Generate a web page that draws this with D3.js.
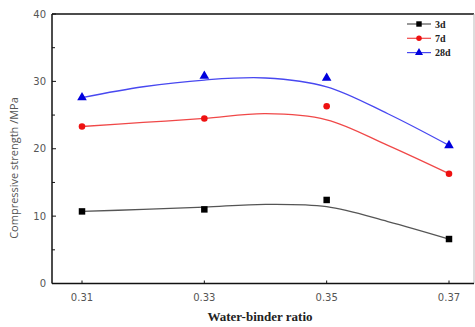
<!DOCTYPE html>
<html><head><meta charset="utf-8">
<script src="https://cdn.jsdelivr.net/npm/d3@7/dist/d3.min.js"></script>
<style>body{margin:0;background:#fff}svg{display:block}</style>
</head><body><div id="chart"></div>
<script>
// measured points
const ratios = [0.31, 0.33, 0.35, 0.37];
const s3d  = [10.7, 11.0, 12.4, 6.6];
const s7d  = [23.3, 24.5, 26.3, 16.3];
const s28d = [27.6, 30.8, 30.5, 20.5];
// smoothed curves
const curveX   = [0.31, 0.32, 0.33, 0.34, 0.35, 0.36, 0.37];
const curve3d  = [10.7, 11.0, 11.35, 11.75, 11.4, 9.2, 6.6];
const curve7d  = [23.3, 23.9, 24.5, 25.2, 24.3, 20.5, 16.3];
const curve28d = [27.6, 29.2, 30.2, 30.5, 29.2, 25.2, 20.5];
const seriesNames = ["3d", "7d", "28d"];
const xTicks = [0.31, 0.33, 0.35, 0.37];
const yTicks = [0, 10, 20, 30, 40];
const yMinor = [5, 15, 25, 35];

(function () {
const W = 475, H = 327;
const svg = d3.select("#chart").append("svg").attr("width", W).attr("height", H);
const pL = 52, pR = 474, pT = 14, pB = 283.5;
const x = d3.scaleLinear().domain([0.31, 0.37]).range([82, 449]);
const y = d3.scaleLinear().domain([0, 40]).range([pB, pT]);

const series = [
  {name: seriesNames[0], pts: s3d, cv: curve3d, color: "#000", line: "#555", shape: d3.symbolSquare, size: 42},
  {name: seriesNames[1], pts: s7d, cv: curve7d, color: "#ee1111", line: "#f04848", shape: d3.symbolCircle, size: 34},
  {name: seriesNames[2], pts: s28d, cv: curve28d, color: "#0000dd", line: "#4848f0", shape: d3.symbolTriangle, size: 40}
];

// frame
svg.append("line").attr("x1", pL).attr("x2", pR).attr("y1", pT).attr("y2", pT).attr("stroke", "#111").attr("stroke-width", 1.5);
svg.append("line").attr("x1", pR).attr("x2", pR).attr("y1", pT).attr("y2", pB).attr("stroke", "#bbb").attr("stroke-width", 1);

const line = d3.line().x(d => x(d[0])).y(d => y(d[1])).curve(d3.curveCatmullRom.alpha(0.5));
series.forEach(s => {
  svg.append("path").datum(curveX.map((v, i) => [v, s.cv[i]]))
    .attr("d", line).attr("fill", "none").attr("stroke", s.line).attr("stroke-width", 1.3);
  svg.selectAll(null).data(ratios.map((v, i) => [v, s.pts[i]])).enter().append("path")
    .attr("d", d3.symbol().type(s.shape).size(s.size))
    .attr("transform", d => `translate(${x(d[0])},${y(d[1])})`)
    .attr("fill", s.color);
});

// axes
const yAxis = svg.append("g").attr("transform", `translate(${pL},0)`);
yAxis.append("line").attr("x1", 0).attr("x2", 0).attr("y1", pT).attr("y2", pB).attr("stroke", "#111").attr("stroke-width", 1.5);
yAxis.selectAll(".t").data(yTicks.concat(yMinor)).enter().append("line")
  .attr("x1", 0).attr("x2", d => yTicks.includes(d) ? 4 : 3).attr("y1", d => y(d)).attr("y2", d => y(d)).attr("stroke", "#111");
yAxis.selectAll("text").data(yTicks).enter().append("text")
  .attr("x", -6).attr("y", d => y(d) + 3.5).attr("text-anchor", "end")
  .attr("font-family", "DejaVu Sans, sans-serif").attr("font-size", 10).attr("fill", "#555").text(d => d);

const xAxis = svg.append("g").attr("transform", `translate(0,${pB})`);
xAxis.append("line").attr("x1", pL).attr("x2", pR).attr("y1", 0).attr("y2", 0).attr("stroke", "#111").attr("stroke-width", 1.5);
xAxis.selectAll(".t").data(xTicks).enter().append("line")
  .attr("x1", d => x(d)).attr("x2", d => x(d)).attr("y1", 0).attr("y2", -3).attr("stroke", "#111");
xAxis.selectAll("text").data(xTicks).enter().append("text")
  .attr("x", d => x(d)).attr("y", 17).attr("text-anchor", "middle")
  .attr("font-family", "DejaVu Sans, sans-serif").attr("font-size", 10).attr("fill", "#555").text(d => d.toFixed(2));

svg.append("text").attr("x", 260).attr("y", 321).attr("text-anchor", "middle")
  .attr("font-family", "Liberation Serif, serif").attr("font-weight", "bold").attr("font-size", 13).attr("fill", "#222")
  .text("Water-binder ratio");
svg.append("text").attr("transform", "translate(18,168) rotate(-90)").attr("text-anchor", "middle")
  .attr("font-family", "Open Sans, sans-serif").attr("font-size", 11).attr("fill", "#555")
  .text("Compressive strength /MPa");

// legend
const lg = svg.append("g");
series.forEach((s, i) => {
  const yy = 24 + i * 14.3;
  lg.append("line").attr("x1", 407).attr("x2", 431).attr("y1", yy).attr("y2", yy).attr("stroke", s.line).attr("stroke-width", 1.2);
  lg.append("path").attr("d", d3.symbol().type(s.shape).size(s.size * 0.7)).attr("transform", `translate(419,${yy})`).attr("fill", s.color);
  lg.append("text").attr("x", 435).attr("y", yy + 3.5).attr("font-family", "Liberation Serif, serif").attr("font-weight", "bold")
    .attr("font-size", 10).attr("fill", "#222").text(s.name);
});
})();
</script></body></html>
